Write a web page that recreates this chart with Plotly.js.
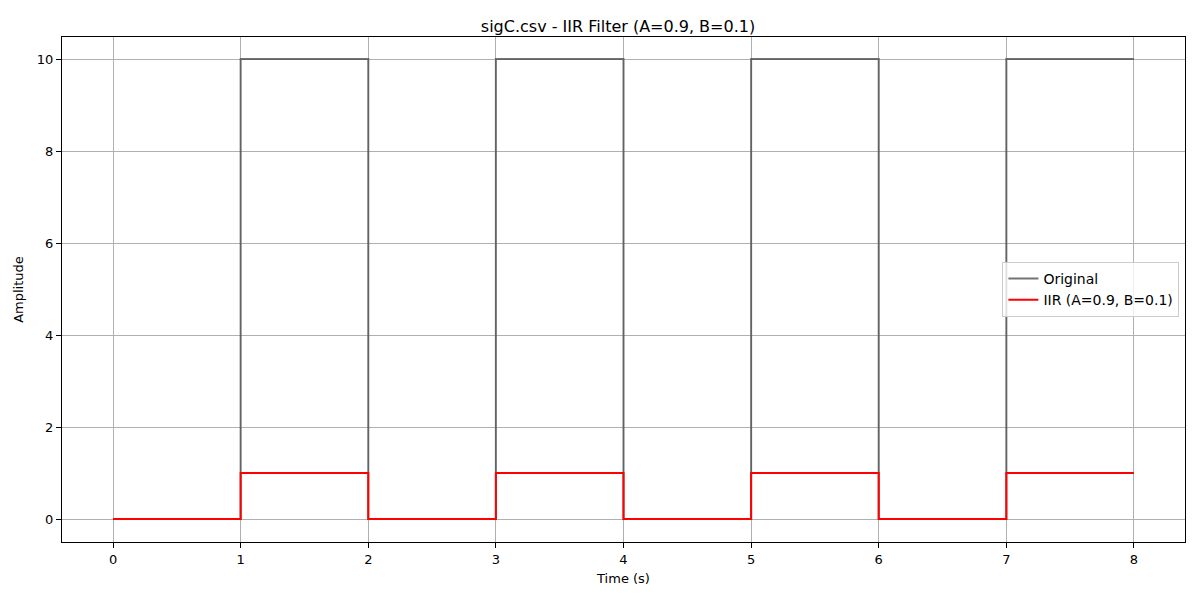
<!DOCTYPE html>
<html>
<head>
<meta charset="utf-8">
<script src="https://cdn.plot.ly/plotly-3.0.1.min.js"></script>
<style>body{margin:0;background:#fff}#chart{width:1200px;height:600px}</style>
</head>
<body>
<div id="chart"></div>
<script>
// step signal sampled at each transition (drawn with hv shape)
var timeS = [0, 1, 2, 3, 4, 5, 6, 7, 8];
var original = [0, 10, 0, 10, 0, 10, 0, 10, 10];
var iirOut = [0, 1, 0, 1, 0, 1, 0, 1, 1];

var traces = [
  {x: timeS, y: original, name: 'Original', mode: 'lines',
   line: {shape: 'hv', color: 'rgba(80,80,80,0.8)', width: 2}},
  {x: timeS, y: iirOut, name: 'IIR (A=0.9, B=0.1)', mode: 'lines',
   line: {shape: 'hv', color: '#ff0000', width: 2}}
];

var axisCommon = {
  showgrid: true, gridcolor: '#b0b0b0', gridwidth: 1,
  zeroline: false, showline: true, mirror: true, linecolor: '#000', linewidth: 1,
  ticks: 'outside', ticklen: 5, tickcolor: '#000',
  tickfont: {size: 13, color: '#000'}
};

var layout = {
  width: 1200, height: 600,
  font: {family: 'DejaVu Sans', color: '#000'},
  paper_bgcolor: '#fff', plot_bgcolor: '#fff',
  margin: {l: 62, r: 15, t: 37, b: 58},
  title: {text: 'sigC.csv - IIR Filter (A=0.9, B=0.1)', font: {size: 16}, x: 0.515, y: 0.965, xanchor: 'center'},
  xaxis: Object.assign({}, axisCommon, {range: [-0.4, 8.4], dtick: 1,
    title: {text: 'Time (s)', font: {size: 13}, standoff: 8}}),
  yaxis: Object.assign({}, axisCommon, {range: [-0.5, 10.48], dtick: 2,
    title: {text: 'Amplitude', font: {size: 13}, standoff: 10}}),
  showlegend: true,
  legend: {x: 0.995, y: 0.5, xanchor: 'right', yanchor: 'middle',
    bgcolor: 'rgba(255,255,255,0.8)', bordercolor: '#ccc', borderwidth: 1,
    font: {size: 14}}
};

Plotly.newPlot('chart', traces, layout, {displayModeBar: false});
</script>
</body>
</html>
